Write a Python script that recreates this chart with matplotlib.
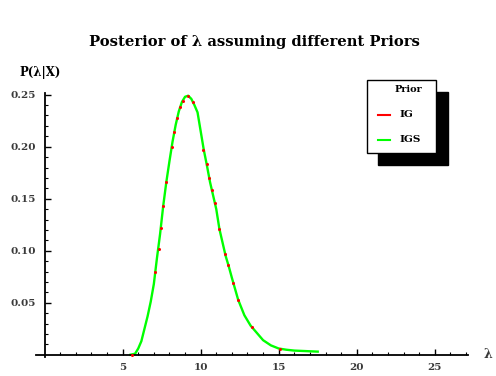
import matplotlib
matplotlib.use('Agg')
import matplotlib.pyplot as plt
from matplotlib.patches import Rectangle
from matplotlib.lines import Line2D

# posterior density (IGS prior, drawn as line)
lam = [5.5, 5.8, 6.0, 6.2, 6.4, 6.6, 6.8, 7.0, 7.2, 7.4, 7.6, 7.8, 8.0, 8.2, 8.4,
       8.6, 8.8, 9.0, 9.2, 9.4, 9.6, 9.8, 10.0, 10.2, 10.4, 10.6, 10.8, 11.0,
       11.2, 11.4, 11.6, 11.8, 12.0, 12.4, 12.8, 13.2, 13.6, 14.0, 14.5, 15.0,
       15.5, 16.0, 17.5]
dens_igs = [0.0, 0.001, 0.006, 0.013, 0.025, 0.037, 0.051, 0.068, 0.093, 0.116,
            0.143, 0.166, 0.186, 0.205, 0.221, 0.234, 0.243, 0.248, 0.249, 0.246,
            0.240, 0.233, 0.215, 0.197, 0.182, 0.166, 0.153, 0.140, 0.121, 0.108,
            0.095, 0.085, 0.074, 0.053, 0.038, 0.028, 0.021, 0.014, 0.009, 0.006,
            0.0048, 0.004, 0.003]

# posterior density (IG prior, drawn as points)
lam_ig = [5.6, 7.1, 7.3, 7.45, 7.6, 7.8, 8.15, 8.3, 8.5, 8.67, 8.85, 9.17, 9.5,
          10.17, 10.38, 10.55, 10.7, 10.92, 11.2, 11.56, 11.77, 12.1, 12.4,
          13.27, 15.1]
dens_ig = [0.0, 0.080, 0.102, 0.122, 0.143, 0.166, 0.200, 0.214, 0.228, 0.238,
           0.244, 0.249, 0.243, 0.197, 0.183, 0.170, 0.158, 0.146, 0.121, 0.097,
           0.086, 0.069, 0.053, 0.027, 0.006]

series_names = ['IG', 'IGS']
x_ticks = [5, 10, 15, 20, 25]
y_ticks = [0.05, 0.10, 0.15, 0.20, 0.25]

plt.rcParams['font.family'] = 'DejaVu Serif'
plt.rcParams['font.weight'] = 'bold'

fig = plt.figure(figsize=(4.96, 3.76), dpi=100)
ax = fig.add_axes([0.0726, 0.051, 0.870, 0.7027])

ax.plot(lam, dens_igs, color='#00ff00', linewidth=1.7, zorder=2)
ax.plot(lam_ig, dens_ig, linestyle='none', marker='o', markersize=2.2,
        color='#ff0000', markeredgewidth=0, zorder=3)

ax.set_xlim(-0.55, 27.1)
ax.set_ylim(-0.002, 0.252)

for s in ['top', 'right']:
    ax.spines[s].set_visible(False)
ax.spines['left'].set_position(('data', 0))
ax.spines['bottom'].set_position(('data', 0))
ax.spines['left'].set_linewidth(1.3)
ax.spines['bottom'].set_linewidth(1.3)

ax.set_xticks(x_ticks)
ax.set_yticks(y_ticks)
ax.set_yticklabels([f'{v:.2f}' for v in y_ticks])
ax.set_xticks([i for i in range(1, 28) if i % 5 != 0], minor=True)
ax.set_yticks([i / 100 for i in range(1, 26) if i % 5 != 0], minor=True)
ax.tick_params(which='major', direction='in', length=4.5, width=1.0,
               labelsize=7.5, colors='black')
ax.tick_params(which='minor', direction='in', length=2.5, width=0.8)
ax.tick_params(axis='y', pad=6)
ax.tick_params(axis='x', pad=6)
for lab in ax.get_xticklabels() + ax.get_yticklabels():
    lab.set_color('#3a3a3a')

fig.text(0.512, 0.889, 'Posterior of λ assuming different Priors',
         ha='center', va='center', fontsize=10.6, fontweight='bold')
fig.text(0.040, 0.808, 'P(λ|X)', ha='left', va='center', fontsize=8.5)
fig.text(0.984, 0.056, 'λ', ha='center', va='center', fontsize=9,
         color='#3a3a3a')

# legend box with heavy shadow
fig.patches.append(Rectangle((0.762, 0.561), 0.141, 0.193, transform=fig.transFigure,
                             facecolor='black', edgecolor='black', zorder=5))
fig.patches.append(Rectangle((0.739, 0.594), 0.141, 0.193, transform=fig.transFigure,
                             facecolor='white', edgecolor='black', linewidth=1.0,
                             zorder=6))
fig.text(0.823, 0.763, 'Prior', ha='center', va='center', fontsize=7, zorder=7)
leg_colors = ['#ff0000', '#00ff00']
leg_y = [0.695, 0.628]
for name, c, yy in zip(series_names, leg_colors, leg_y):
    fig.lines.append(Line2D([0.762, 0.786], [yy, yy], transform=fig.transFigure,
                            color=c, linewidth=1.5, zorder=7))
    fig.text(0.806, yy, name, ha='left', va='center', fontsize=7.5, zorder=7)

fig.savefig('out.png', dpi=100)
